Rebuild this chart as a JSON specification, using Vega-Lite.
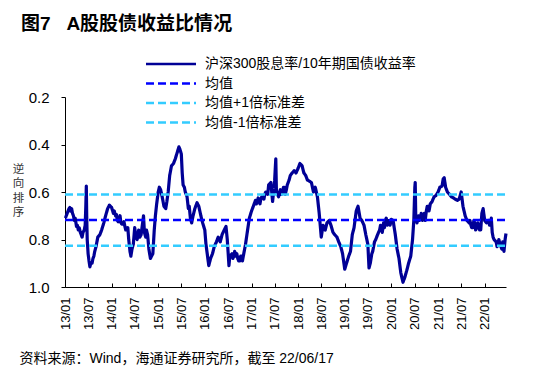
{
  "$schema": "https://vega.github.io/schema/vega-lite/v6.json",
  "width": 441,
  "height": 190,
  "autosize": {"type": "none"},
  "padding": {"left": 65, "top": 97, "right": 44, "bottom": 81},
  "background": "white",
  "title": {
    "text": "图7\u00a0\u00a0\u00a0A股股债收益比情况",
    "anchor": "start",
    "frame": "group",
    "dx": -44,
    "offset": 23,
    "fontSize": 19,
    "fontWeight": "bold",
    "font": "Liberation Sans, Noto Sans CJK SC",
    "color": "black"
  },
  "config": {
    "view": {"stroke": null},
    "font": "Liberation Sans, Noto Sans CJK SC",
    "legend": {
      "orient": "none",
      "legendX": 99,
      "legendY": -40,
      "symbolType": "M-5,0H5",
      "symbolSize": 100,
      "symbolStrokeWidth": 2.5,
      "labelOffset": 27,
      "labelFontSize": 14,
      "labelLimit": 400,
      "labelColor": "black",
      "labelFont": "Liberation Sans, Noto Sans CJK SC",
      "rowPadding": 5.5,
      "padding": 0,
      "title": null
    }
  },
  "datasets": {
    "ratio": [
      {"date": "2013-01-04", "value": 0.71}, {"date": "2013-01-11", "value": 0.70}, {"date": "2013-01-18", "value": 0.69}, {"date": "2013-01-25", "value": 0.68},
      {"date": "2013-02-01", "value": 0.67}, {"date": "2013-02-08", "value": 0.665}, {"date": "2013-02-15", "value": 0.68}, {"date": "2013-02-22", "value": 0.67},
      {"date": "2013-03-01", "value": 0.69}, {"date": "2013-03-08", "value": 0.70}, {"date": "2013-03-15", "value": 0.72}, {"date": "2013-03-22", "value": 0.71},
      {"date": "2013-04-01", "value": 0.745}, {"date": "2013-04-08", "value": 0.74}, {"date": "2013-04-15", "value": 0.76}, {"date": "2013-04-22", "value": 0.75},
      {"date": "2013-05-01", "value": 0.77}, {"date": "2013-05-08", "value": 0.78}, {"date": "2013-05-15", "value": 0.79}, {"date": "2013-05-22", "value": 0.77},
      {"date": "2013-06-01", "value": 0.76}, {"date": "2013-06-08", "value": 0.74}, {"date": "2013-06-13", "value": 0.66}, {"date": "2013-06-17", "value": 0.575},
      {"date": "2013-06-20", "value": 0.70}, {"date": "2013-06-24", "value": 0.80}, {"date": "2013-07-01", "value": 0.86}, {"date": "2013-07-08", "value": 0.89},
      {"date": "2013-07-15", "value": 0.915}, {"date": "2013-07-22", "value": 0.90}, {"date": "2013-08-01", "value": 0.90}, {"date": "2013-08-08", "value": 0.88},
      {"date": "2013-08-15", "value": 0.87}, {"date": "2013-08-22", "value": 0.85}, {"date": "2013-09-01", "value": 0.83}, {"date": "2013-09-15", "value": 0.79},
      {"date": "2013-10-01", "value": 0.78}, {"date": "2013-10-15", "value": 0.76}, {"date": "2013-11-01", "value": 0.73}, {"date": "2013-11-15", "value": 0.70},
      {"date": "2013-12-01", "value": 0.67}, {"date": "2013-12-15", "value": 0.655}, {"date": "2014-01-01", "value": 0.665}, {"date": "2014-01-15", "value": 0.69},
      {"date": "2014-01-22", "value": 0.68}, {"date": "2014-02-08", "value": 0.695}, {"date": "2014-02-22", "value": 0.725}, {"date": "2014-03-08", "value": 0.70},
      {"date": "2014-03-22", "value": 0.735}, {"date": "2014-04-08", "value": 0.725}, {"date": "2014-04-22", "value": 0.76}, {"date": "2014-05-08", "value": 0.75},
      {"date": "2014-02-01", "value": 0.70}, {"date": "2014-02-15", "value": 0.72}, {"date": "2014-03-01", "value": 0.715}, {"date": "2014-03-15", "value": 0.73},
      {"date": "2014-04-01", "value": 0.735}, {"date": "2014-04-15", "value": 0.745}, {"date": "2014-05-01", "value": 0.76}, {"date": "2014-05-15", "value": 0.80},
      {"date": "2014-05-25", "value": 0.85}, {"date": "2014-06-01", "value": 0.87}, {"date": "2014-06-10", "value": 0.84}, {"date": "2014-06-20", "value": 0.82},
      {"date": "2014-07-01", "value": 0.75}, {"date": "2014-07-10", "value": 0.79}, {"date": "2014-07-20", "value": 0.80}, {"date": "2014-08-01", "value": 0.76},
      {"date": "2014-08-10", "value": 0.79}, {"date": "2014-08-20", "value": 0.78}, {"date": "2014-09-01", "value": 0.73}, {"date": "2014-09-08", "value": 0.70},
      {"date": "2014-09-15", "value": 0.77}, {"date": "2014-09-25", "value": 0.79}, {"date": "2014-10-01", "value": 0.76}, {"date": "2014-10-10", "value": 0.78},
      {"date": "2014-10-20", "value": 0.84}, {"date": "2014-11-01", "value": 0.88}, {"date": "2014-11-10", "value": 0.87}, {"date": "2014-11-20", "value": 0.86},
      {"date": "2014-12-01", "value": 0.76}, {"date": "2014-12-10", "value": 0.70}, {"date": "2014-12-20", "value": 0.65}, {"date": "2015-01-01", "value": 0.60},
      {"date": "2015-01-10", "value": 0.58}, {"date": "2015-01-20", "value": 0.59}, {"date": "2015-02-01", "value": 0.62}, {"date": "2015-02-15", "value": 0.66},
      {"date": "2015-03-01", "value": 0.67}, {"date": "2015-03-10", "value": 0.64}, {"date": "2015-03-20", "value": 0.60}, {"date": "2015-04-01", "value": 0.53},
      {"date": "2015-04-15", "value": 0.49}, {"date": "2015-05-01", "value": 0.48}, {"date": "2015-05-15", "value": 0.46}, {"date": "2015-06-01", "value": 0.43},
      {"date": "2015-06-12", "value": 0.41}, {"date": "2015-06-20", "value": 0.42}, {"date": "2015-07-01", "value": 0.44}, {"date": "2015-07-08", "value": 0.52},
      {"date": "2015-07-15", "value": 0.57}, {"date": "2015-07-25", "value": 0.58}, {"date": "2015-08-01", "value": 0.60}, {"date": "2015-08-15", "value": 0.62},
      {"date": "2015-08-25", "value": 0.67}, {"date": "2015-09-01", "value": 0.66}, {"date": "2015-09-10", "value": 0.71}, {"date": "2015-09-20", "value": 0.73},
      {"date": "2015-10-01", "value": 0.70}, {"date": "2015-10-15", "value": 0.67}, {"date": "2015-11-01", "value": 0.645}, {"date": "2015-11-15", "value": 0.66},
      {"date": "2015-12-01", "value": 0.70}, {"date": "2015-12-15", "value": 0.73}, {"date": "2016-01-01", "value": 0.76}, {"date": "2016-01-10", "value": 0.82},
      {"date": "2016-01-20", "value": 0.86}, {"date": "2016-02-01", "value": 0.91}, {"date": "2016-02-15", "value": 0.88}, {"date": "2016-03-01", "value": 0.86},
      {"date": "2016-03-15", "value": 0.83}, {"date": "2016-04-01", "value": 0.81}, {"date": "2016-04-15", "value": 0.79}, {"date": "2016-05-01", "value": 0.81},
      {"date": "2016-05-15", "value": 0.78}, {"date": "2016-06-01", "value": 0.76}, {"date": "2016-06-15", "value": 0.745}, {"date": "2016-06-25", "value": 0.80},
      {"date": "2016-07-01", "value": 0.85}, {"date": "2016-07-08", "value": 0.91}, {"date": "2016-07-15", "value": 0.87}, {"date": "2016-08-01", "value": 0.86},
      {"date": "2016-08-08", "value": 0.88}, {"date": "2016-08-22", "value": 0.85}, {"date": "2016-09-08", "value": 0.86}, {"date": "2016-09-22", "value": 0.89},
      {"date": "2016-10-08", "value": 0.87}, {"date": "2016-10-22", "value": 0.89},
      {"date": "2016-08-15", "value": 0.87}, {"date": "2016-09-01", "value": 0.87}, {"date": "2016-09-15", "value": 0.88}, {"date": "2016-10-01", "value": 0.89},
      {"date": "2016-10-15", "value": 0.87}, {"date": "2016-11-01", "value": 0.86}, {"date": "2016-11-15", "value": 0.82}, {"date": "2016-12-01", "value": 0.76},
      {"date": "2016-12-15", "value": 0.71}, {"date": "2017-01-01", "value": 0.68}, {"date": "2017-01-15", "value": 0.66}, {"date": "2017-02-01", "value": 0.635},
      {"date": "2017-02-08", "value": 0.65}, {"date": "2017-02-22", "value": 0.625}, {"date": "2017-03-08", "value": 0.65}, {"date": "2017-03-22", "value": 0.62},
      {"date": "2017-04-08", "value": 0.63}, {"date": "2017-04-22", "value": 0.60}, {"date": "2017-05-08", "value": 0.61},
      {"date": "2017-02-15", "value": 0.64}, {"date": "2017-03-01", "value": 0.64}, {"date": "2017-03-15", "value": 0.63}, {"date": "2017-04-01", "value": 0.62},
      {"date": "2017-04-15", "value": 0.61}, {"date": "2017-05-01", "value": 0.60}, {"date": "2017-05-15", "value": 0.57}, {"date": "2017-06-01", "value": 0.56},
      {"date": "2017-06-15", "value": 0.64}, {"date": "2017-07-01", "value": 0.55}, {"date": "2017-07-10", "value": 0.46}, {"date": "2017-07-15", "value": 0.60},
      {"date": "2017-08-01", "value": 0.62}, {"date": "2017-08-15", "value": 0.59}, {"date": "2017-09-01", "value": 0.60}, {"date": "2017-09-15", "value": 0.58},
      {"date": "2017-08-08", "value": 0.60}, {"date": "2017-08-22", "value": 0.61}, {"date": "2017-09-08", "value": 0.58}, {"date": "2017-09-22", "value": 0.61},
      {"date": "2017-10-08", "value": 0.57}, {"date": "2017-10-22", "value": 0.55},
      {"date": "2017-10-01", "value": 0.59}, {"date": "2017-10-15", "value": 0.56}, {"date": "2017-11-01", "value": 0.53}, {"date": "2017-11-15", "value": 0.52},
      {"date": "2017-12-01", "value": 0.51}, {"date": "2017-12-15", "value": 0.52}, {"date": "2018-01-01", "value": 0.50}, {"date": "2018-01-15", "value": 0.48},
      {"date": "2018-02-01", "value": 0.49}, {"date": "2018-02-15", "value": 0.52}, {"date": "2018-03-01", "value": 0.53}, {"date": "2018-03-15", "value": 0.55},
      {"date": "2018-04-01", "value": 0.555}, {"date": "2018-04-15", "value": 0.56}, {"date": "2018-05-01", "value": 0.60}, {"date": "2018-05-15", "value": 0.58},
      {"date": "2018-06-01", "value": 0.62}, {"date": "2018-06-15", "value": 0.69}, {"date": "2018-07-01", "value": 0.79}, {"date": "2018-07-15", "value": 0.74},
      {"date": "2018-08-01", "value": 0.76}, {"date": "2018-08-15", "value": 0.73}, {"date": "2018-09-01", "value": 0.72}, {"date": "2018-09-15", "value": 0.74},
      {"date": "2018-10-01", "value": 0.77}, {"date": "2018-10-15", "value": 0.78}, {"date": "2018-11-01", "value": 0.79}, {"date": "2018-11-15", "value": 0.81},
      {"date": "2018-12-01", "value": 0.83}, {"date": "2018-12-15", "value": 0.86}, {"date": "2019-01-01", "value": 0.925}, {"date": "2019-01-15", "value": 0.90},
      {"date": "2019-02-01", "value": 0.87}, {"date": "2019-02-15", "value": 0.85}, {"date": "2019-03-01", "value": 0.78}, {"date": "2019-03-15", "value": 0.75},
      {"date": "2019-04-01", "value": 0.68}, {"date": "2019-04-15", "value": 0.66}, {"date": "2019-05-01", "value": 0.71}, {"date": "2019-05-15", "value": 0.72},
      {"date": "2019-06-01", "value": 0.74}, {"date": "2019-06-15", "value": 0.78}, {"date": "2019-07-01", "value": 0.82}, {"date": "2019-07-10", "value": 0.92},
      {"date": "2019-07-20", "value": 0.90}, {"date": "2019-08-01", "value": 0.86}, {"date": "2019-08-15", "value": 0.83}, {"date": "2019-09-01", "value": 0.80},
      {"date": "2019-08-08", "value": 0.85}, {"date": "2019-08-22", "value": 0.81},
      {"date": "2019-10-08", "value": 0.74}, {"date": "2019-10-22", "value": 0.77}, {"date": "2019-11-08", "value": 0.75}, {"date": "2019-11-22", "value": 0.71},
      {"date": "2019-12-08", "value": 0.72}, {"date": "2019-12-22", "value": 0.74},
      {"date": "2019-09-15", "value": 0.78}, {"date": "2019-10-01", "value": 0.76}, {"date": "2019-10-15", "value": 0.75}, {"date": "2019-11-01", "value": 0.73},
      {"date": "2019-11-15", "value": 0.72}, {"date": "2019-12-01", "value": 0.74}, {"date": "2019-12-15", "value": 0.72}, {"date": "2020-01-01", "value": 0.715},
      {"date": "2020-01-15", "value": 0.72}, {"date": "2020-02-01", "value": 0.78}, {"date": "2020-02-15", "value": 0.84}, {"date": "2020-03-01", "value": 0.88},
      {"date": "2020-03-15", "value": 0.94}, {"date": "2020-04-01", "value": 0.98}, {"date": "2020-04-15", "value": 0.96}, {"date": "2020-05-01", "value": 0.93},
      {"date": "2020-05-15", "value": 0.90}, {"date": "2020-06-01", "value": 0.87}, {"date": "2020-06-15", "value": 0.80}, {"date": "2020-06-25", "value": 0.72},
      {"date": "2020-07-03", "value": 0.58}, {"date": "2020-07-06", "value": 0.56}, {"date": "2020-07-10", "value": 0.70}, {"date": "2020-07-20", "value": 0.73},
      {"date": "2020-08-01", "value": 0.70}, {"date": "2020-08-15", "value": 0.71}, {"date": "2020-09-01", "value": 0.72}, {"date": "2020-09-15", "value": 0.69},
      {"date": "2020-08-08", "value": 0.72}, {"date": "2020-08-22", "value": 0.69}, {"date": "2020-09-08", "value": 0.70}, {"date": "2020-09-22", "value": 0.72},
      {"date": "2020-10-08", "value": 0.66}, {"date": "2020-10-22", "value": 0.68},
      {"date": "2020-10-01", "value": 0.68}, {"date": "2020-10-15", "value": 0.66}, {"date": "2020-11-01", "value": 0.65}, {"date": "2020-11-15", "value": 0.64},
      {"date": "2020-12-01", "value": 0.62}, {"date": "2020-12-15", "value": 0.615}, {"date": "2021-01-01", "value": 0.60}, {"date": "2021-01-15", "value": 0.58},
      {"date": "2021-02-01", "value": 0.575}, {"date": "2021-02-10", "value": 0.545}, {"date": "2021-02-18", "value": 0.54}, {"date": "2021-03-01", "value": 0.58},
      {"date": "2021-03-15", "value": 0.60}, {"date": "2021-04-01", "value": 0.61}, {"date": "2021-04-15", "value": 0.62}, {"date": "2021-05-01", "value": 0.625},
      {"date": "2021-05-15", "value": 0.63}, {"date": "2021-06-01", "value": 0.635}, {"date": "2021-06-15", "value": 0.63}, {"date": "2021-07-01", "value": 0.60},
      {"date": "2021-07-15", "value": 0.66}, {"date": "2021-08-01", "value": 0.70}, {"date": "2021-08-15", "value": 0.72}, {"date": "2021-09-01", "value": 0.73},
      {"date": "2021-09-08", "value": 0.72}, {"date": "2021-09-22", "value": 0.75}, {"date": "2021-10-08", "value": 0.72}, {"date": "2021-10-22", "value": 0.76},
      {"date": "2021-11-08", "value": 0.73}, {"date": "2021-11-22", "value": 0.76},
      {"date": "2021-09-15", "value": 0.74}, {"date": "2021-10-01", "value": 0.75}, {"date": "2021-10-15", "value": 0.73}, {"date": "2021-11-01", "value": 0.75},
      {"date": "2021-11-15", "value": 0.74}, {"date": "2021-12-01", "value": 0.76}, {"date": "2021-12-10", "value": 0.69}, {"date": "2021-12-20", "value": 0.67},
      {"date": "2022-01-01", "value": 0.72}, {"date": "2022-01-15", "value": 0.73}, {"date": "2022-02-01", "value": 0.72}, {"date": "2022-02-15", "value": 0.74},
      {"date": "2022-02-08", "value": 0.74}, {"date": "2022-02-22", "value": 0.71}, {"date": "2022-03-08", "value": 0.79}, {"date": "2022-04-08", "value": 0.83},
      {"date": "2022-04-22", "value": 0.80}, {"date": "2022-05-08", "value": 0.83}, {"date": "2022-05-22", "value": 0.81},
      {"date": "2022-03-01", "value": 0.77}, {"date": "2022-03-15", "value": 0.80}, {"date": "2022-04-01", "value": 0.81}, {"date": "2022-04-15", "value": 0.82},
      {"date": "2022-05-01", "value": 0.82}, {"date": "2022-05-15", "value": 0.84}, {"date": "2022-06-01", "value": 0.85}, {"date": "2022-06-10", "value": 0.80},
      {"date": "2022-06-17", "value": 0.775}
    ],
    "bands": [
      {"date": "2013-01-01", "value": 0.718, "series": "均值"},
      {"date": "2022-06-17", "value": 0.718, "series": "均值"},
      {"date": "2013-01-01", "value": 0.61, "series": "均值+1倍标准差"},
      {"date": "2022-06-17", "value": 0.61, "series": "均值+1倍标准差"},
      {"date": "2013-01-01", "value": 0.826, "series": "均值-1倍标准差"},
      {"date": "2022-06-17", "value": 0.826, "series": "均值-1倍标准差"}
    ]
  },
  "encoding": {
    "x": {
      "field": "date",
      "type": "temporal",
      "scale": {
        "type": "utc",
        "domain": [
          {"year": 2013, "month": 1, "date": 1, "utc": true},
          {"year": 2022, "month": 6, "date": 17, "utc": true}
        ]
      },
      "axis": {
        "values": [
          {"year": 2013, "month": 1, "date": 1, "utc": true}, {"year": 2013, "month": 7, "date": 1, "utc": true},
          {"year": 2014, "month": 1, "date": 1, "utc": true}, {"year": 2014, "month": 7, "date": 1, "utc": true},
          {"year": 2015, "month": 1, "date": 1, "utc": true}, {"year": 2015, "month": 7, "date": 1, "utc": true},
          {"year": 2016, "month": 1, "date": 1, "utc": true}, {"year": 2016, "month": 7, "date": 1, "utc": true},
          {"year": 2017, "month": 1, "date": 1, "utc": true}, {"year": 2017, "month": 7, "date": 1, "utc": true},
          {"year": 2018, "month": 1, "date": 1, "utc": true}, {"year": 2018, "month": 7, "date": 1, "utc": true},
          {"year": 2019, "month": 1, "date": 1, "utc": true}, {"year": 2019, "month": 7, "date": 1, "utc": true},
          {"year": 2020, "month": 1, "date": 1, "utc": true}, {"year": 2020, "month": 7, "date": 1, "utc": true},
          {"year": 2021, "month": 1, "date": 1, "utc": true}, {"year": 2021, "month": 7, "date": 1, "utc": true},
          {"year": 2022, "month": 1, "date": 1, "utc": true}
        ],
        "format": "%y/%m",
        "labelAngle": -90,
        "labelFontSize": 13,
        "labelColor": "black",
        "labelPadding": 14,
        "labelOverlap": false,
        "labelFlush": false,
        "tickSize": -4,
        "tickColor": "black",
        "domainColor": "black",
        "grid": false,
        "title": "资料来源：Wind，海通证券研究所，截至 22/06/17",
        "titleAnchor": "start",
        "titleAlign": "left",
        "titleX": -46,
        "titleY": 71,
        "titleBaseline": "middle",
        "titleFontSize": 14,
        "titleFontWeight": "normal",
        "titleColor": "black"
      }
    },
    "y": {
      "field": "value",
      "type": "quantitative",
      "scale": {"domain": [0.2, 1.0], "reverse": true, "nice": false, "zero": false},
      "axis": {
        "values": [0.2, 0.4, 0.6, 0.8, 1.0],
        "format": ".1f",
        "grid": false,
        "tickSize": 4,
        "tickColor": "black",
        "domainColor": "black",
        "labelFontSize": 15,
        "labelColor": "black",
        "labelPadding": 12,
        "title": ["逆", "向", "排", "序"],
        "titleAngle": 0,
        "titleX": -47,
        "titleY": 72,
        "titleAlign": "center",
        "titleBaseline": "middle",
        "titleFontSize": 11.5,
        "titleLineHeight": 14.5,
        "titleFontWeight": "normal",
        "titleColor": "#333333",
        "titleFont": "Noto Sans CJK SC"
      }
    }
  },
  "layer": [
    {
      "data": {"name": "ratio"},
      "mark": {"type": "line", "strokeWidth": 3.2, "strokeJoin": "round"},
      "encoding": {
        "color": {"datum": "沪深300股息率/10年期国债收益率", "type": "nominal"},
        "strokeDash": {"datum": "沪深300股息率/10年期国债收益率", "type": "nominal"}
      }
    },
    {
      "data": {"name": "bands"},
      "mark": {"type": "line", "strokeWidth": 2.5},
      "encoding": {
        "detail": {"field": "series"},
        "color": {
          "field": "series",
          "type": "nominal",
          "scale": {
            "domain": ["沪深300股息率/10年期国债收益率", "均值", "均值+1倍标准差", "均值-1倍标准差"],
            "range": ["#000096", "#0000FF", "#33CCFF", "#33CCFF"]
          },
          "legend": {"title": null}
        },
        "strokeDash": {
          "field": "series",
          "type": "nominal",
          "scale": {
            "domain": ["沪深300股息率/10年期国债收益率", "均值", "均值+1倍标准差", "均值-1倍标准差"],
            "range": [[1, 0], [8, 4], [8, 4], [8, 4]]
          },
          "legend": {"title": null}
        }
      }
    }
  ]
}
